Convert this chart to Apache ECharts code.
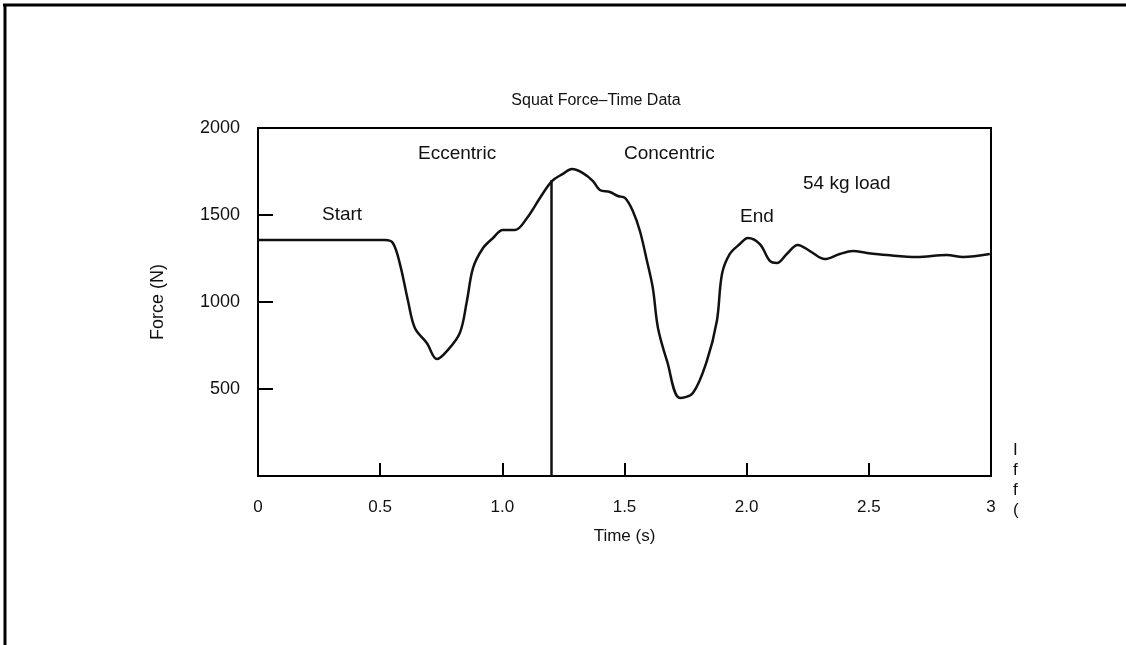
<!DOCTYPE html>
<html>
<head>
<meta charset="utf-8">
<script src="https://cdn.jsdelivr.net/npm/echarts@6/dist/echarts.min.js"></script>
<style>
html,body{margin:0;padding:0;background:#fff;}
#chart{width:1126px;height:645px;}
</style>
</head>
<body>
<div id="chart"></div>
<script>
// Time (s)
var times = [0, 0.52, 0.552, 0.581, 0.614, 0.642, 0.691, 0.732, 0.773, 0.826, 0.855, 0.880, 0.921, 0.962, 1.002, 1.052, 1.101, 1.154, 1.203, 1.248, 1.285, 1.330, 1.371, 1.399, 1.440, 1.473, 1.502, 1.534, 1.563, 1.592, 1.616, 1.637, 1.674, 1.727, 1.780, 1.837, 1.878, 1.899, 1.931, 1.972, 2.005, 2.054, 2.095, 2.124, 2.164, 2.209, 2.259, 2.320, 2.381, 2.435, 2.492, 2.574, 2.696, 2.819, 2.885, 2.995];
// Force (N)
var forces = [1356, 1356, 1339, 1218, 1006, 851, 764, 672, 718, 822, 1006, 1195, 1310, 1368, 1414, 1414, 1483, 1598, 1695, 1736, 1764, 1741, 1695, 1644, 1632, 1609, 1598, 1523, 1408, 1236, 1080, 851, 661, 448, 477, 661, 891, 1161, 1276, 1333, 1368, 1333, 1236, 1224, 1276, 1328, 1293, 1247, 1276, 1293, 1282, 1270, 1259, 1270, 1259, 1276];
// Phase divider (eccentric / concentric)
var dividerTime = 1.2;
var dividerForce = 1700;
// Tick labels
var xTickLabels = {0: '0', 0.5: '0.5', 1: '1.0', 1.5: '1.5', 2: '2.0', 2.5: '2.5', 3: '3'};
var yTickLabels = {500: '500', 1000: '1000', 1500: '1500', 2000: '2000'};
// Texts
var titleText = 'Squat Force\u2013Time Data';
var xName = 'Time (s)';
var yName = 'Force (N)';
var annotations = ['Start', 'Eccentric', 'Concentric', '54 kg load', 'End'];
var fragments = ['I', 'f', 'f', '('];

var data = times.map(function (t, i) { return [t, forces[i]]; });
var FONT = '"Liberation Sans", Arial, Helvetica, sans-serif';

var chart = echarts.init(document.getElementById('chart'), null, {renderer: 'canvas'});

var annPos = [[322, 205], [418, 144], [624, 144], [803, 174], [740, 207]];
var graphics = [
  {type: 'line', shape: {x1: 3, y1: 5, x2: 1126, y2: 5}, style: {stroke: '#000', lineWidth: 3}, silent: true},
  {type: 'line', shape: {x1: 5, y1: 4, x2: 5, y2: 645}, style: {stroke: '#000', lineWidth: 3}, silent: true},
  {type: 'text', x: 596, y: 93, style: {text: titleText, font: '16px ' + FONT, fill: '#111', textAlign: 'center'}, silent: true}
];
annotations.forEach(function (a, i) {
  graphics.push({type: 'text', x: annPos[i][0], y: annPos[i][1], style: {text: a, font: '19px ' + FONT, fill: '#111'}, silent: true});
});
fragments.forEach(function (f, i) {
  graphics.push({type: 'text', x: 1013, y: 442 + i * 20, style: {text: f, font: '17px ' + FONT, fill: '#111'}, silent: true});
});

chart.setOption({
  animation: false,
  backgroundColor: '#fff',
  grid: {left: 258, right: 135, top: 128, bottom: 169, show: true, borderColor: '#000', borderWidth: 2, backgroundColor: 'transparent'},
  xAxis: {
    type: 'value', min: 0, max: 3, interval: 0.5,
    name: xName, nameLocation: 'middle', nameGap: 52,
    nameTextStyle: {fontFamily: FONT, fontSize: 17, color: '#111'},
    axisLine: {show: true, lineStyle: {color: '#000', width: 2}},
    axisTick: {show: true, inside: true, length: 13, lineStyle: {color: '#000', width: 2},
      customValues: [0.5, 1, 1.5, 2, 2.5]},
    axisLabel: {margin: 23, fontFamily: FONT, fontSize: 17, color: '#111',
      formatter: function (v) { return xTickLabels[v] !== undefined ? xTickLabels[v] : ''; }},
    splitLine: {show: false}
  },
  yAxis: {
    type: 'value', min: 0, max: 2000, interval: 500,
    name: yName, nameLocation: 'middle', nameGap: 91, nameRotate: 90,
    nameTextStyle: {fontFamily: FONT, fontSize: 18, color: '#111'},
    axisLine: {show: true, lineStyle: {color: '#000', width: 2}},
    axisTick: {show: true, inside: true, length: 15, lineStyle: {color: '#000', width: 2},
      customValues: [500, 1000, 1500]},
    axisLabel: {margin: 18, fontFamily: FONT, fontSize: 18, color: '#111',
      formatter: function (v) { return yTickLabels[v] || ''; }},
    splitLine: {show: false}
  },
  series: [{
    type: 'line',
    data: data,
    smooth: 0.35,
    showSymbol: false,
    lineStyle: {color: '#111', width: 2.5},
    markLine: {
      silent: true, symbol: ['none', 'none'], label: {show: false},
      lineStyle: {color: '#111', width: 2.5, type: 'solid'},
      data: [[{coord: [dividerTime, 0]}, {coord: [dividerTime, dividerForce]}]]
    }
  }],
  graphic: graphics
});
</script>
</body>
</html>
